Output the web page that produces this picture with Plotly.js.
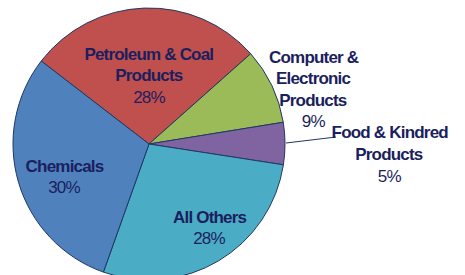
<!DOCTYPE html>
<html>
<head>
<meta charset="utf-8">
<script src="https://cdn.plot.ly/plotly-3.0.1.min.js"></script>
<style>
html,body{margin:0;padding:0;overflow:hidden;background:#fff;}
#chart{width:465px;height:290px;}
#chart .annotation-text{letter-spacing:-0.8px;}
</style>
</head>
<body>
<div id="chart"></div>
<script>
const categories = ['Petroleum & Coal Products', 'Computer & Electronic Products', 'Food & Kindred Products', 'All Others', 'Chemicals'];
const shares = [28, 9, 5, 28, 30];
const labelLines = [['Petroleum & Coal', 'Products'], ['Computer &', 'Electronic', 'Products'], ['Food & Kindred', 'Products'], ['All Others'], ['Chemicals']];
const sliceColors = ['#C0504D', '#9BBB59', '#8064A2', '#4BACC6', '#4F81BD'];

const W = 465, H = 290;
// block centre x and first-line centre y, in pixels
const labelPos = [[149, 54], [313, 57], [389, 133], [209, 217], [64, 166]];
const lineGap = 21.5;
const px = x => x / W;
const py = y => 1 - y / H;

const textColor = '#1B1F5E';
const fam = '"Liberation Sans", Arial, sans-serif';

const annotations = [];
categories.forEach((c, i) => {
  const lines = labelLines[i].concat([shares[i] + '%']);
  lines.forEach((s, j) => {
    const isPct = j === lines.length - 1;
    annotations.push({
      xref: 'paper', yref: 'paper',
      x: px(labelPos[i][0]), y: py(labelPos[i][1] + j * lineGap),
      xanchor: 'center', yanchor: 'middle',
      text: s, showarrow: false,
      font: {family: fam, size: 17, color: textColor, weight: isPct ? 'normal' : 'bold'}
    });
  });
});

const trace = {
  type: 'pie',
  labels: categories,
  values: shares,
  sort: false,
  direction: 'clockwise',
  rotation: -52.4,
  textinfo: 'none',
  hoverinfo: 'label+percent',
  marker: {colors: sliceColors, line: {color: '#1F3763', width: 1}},
  domain: {x: [13 / W, 285 / W], y: [(H - 280) / H, (H - 8) / H]}
};

const layout = {
  width: W, height: H,
  margin: {l: 0, r: 0, t: 0, b: 0},
  paper_bgcolor: '#fff',
  showlegend: false,
  annotations: annotations,
  shapes: [{type: 'line', xref: 'paper', yref: 'paper', x0: px(286), y0: py(143), x1: px(336), y1: py(137), line: {color: '#1F3763', width: 1}}]
};

Plotly.newPlot('chart', [trace], layout, {displayModeBar: false, staticPlot: true});
</script>
</body>
</html>
